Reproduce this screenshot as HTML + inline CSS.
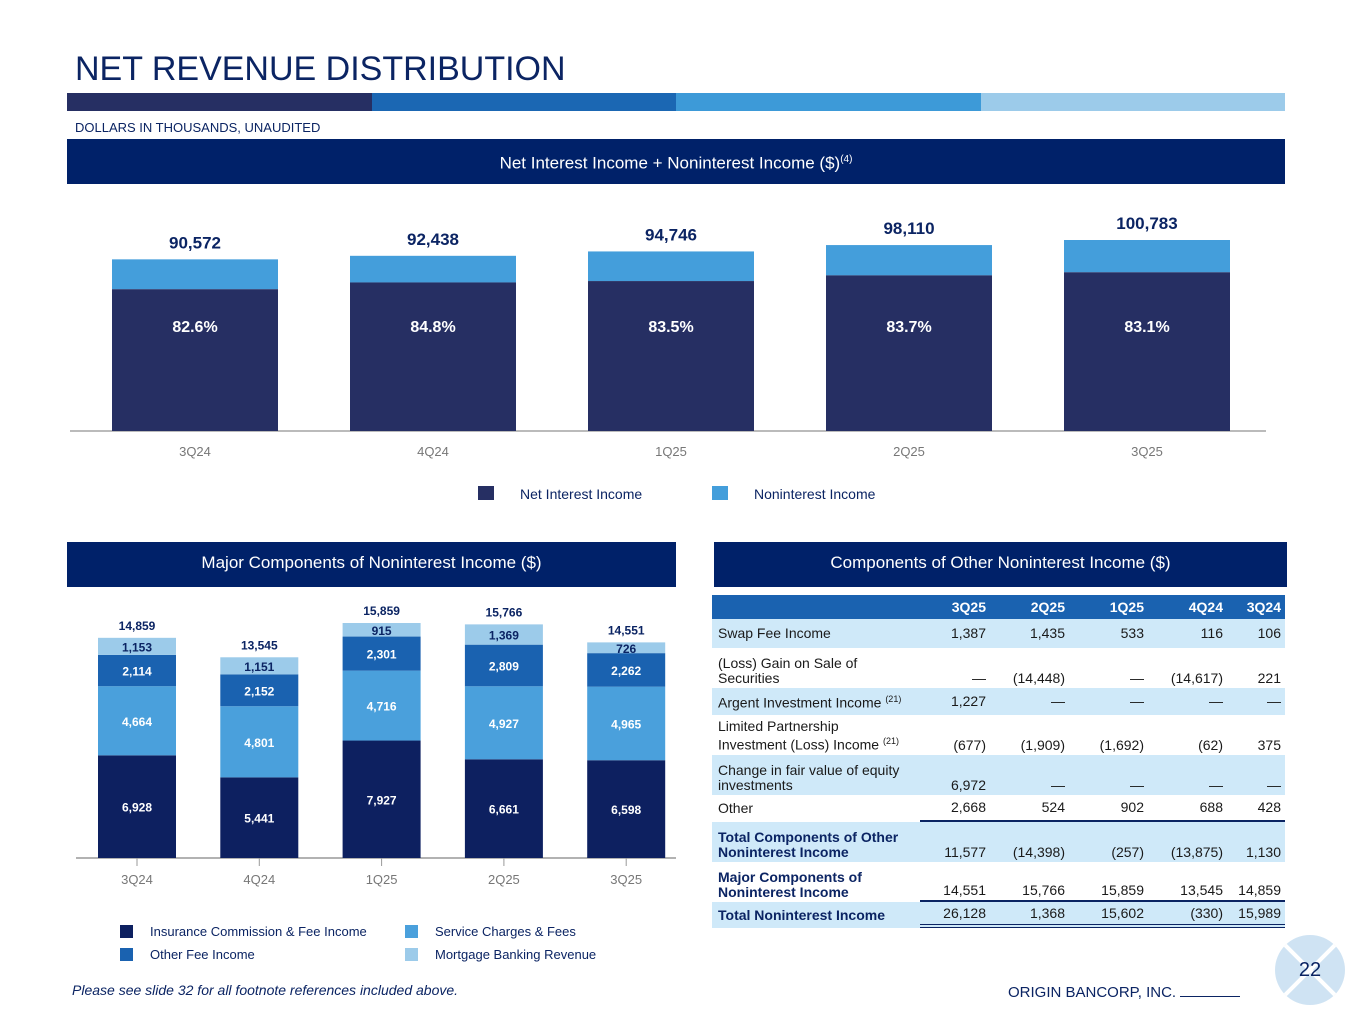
<!DOCTYPE html>
<html><head><meta charset="utf-8">
<style>
body{margin:0;width:1365px;height:1024px;background:#fff;font-family:"Liberation Sans",Arial,sans-serif;position:relative;overflow:hidden}
.abs{position:absolute}
.hdr{position:absolute;background:#002169;color:#fff;font-size:17px;text-align:center}
table{border-collapse:separate;border-spacing:0;font-size:14px;color:#1a1a1a;table-layout:fixed}
td{padding:0 4px;text-align:right;vertical-align:bottom;line-height:15px;padding-bottom:2px}
td.l{text-align:left;padding-left:6px}
tr.m td{vertical-align:middle;padding-bottom:0}
tr.lb{background:#cfe9f9}
th{color:#fff;font-size:14px;text-align:right;padding:0 4px}
.u1{border-bottom:2px solid #0b2463}
.u2{border-bottom:4px double #0b2463}
td.g{border-left:6px solid transparent;background-clip:padding-box}
</style></head><body>
<div class="abs" style="left:75px;top:50px;font-size:34px;color:#0b2463">NET REVENUE DISTRIBUTION</div>
<div class="abs" style="left:67px;top:93px;width:1218px;height:18px;display:flex">
<div style="flex:1;background:#262f63"></div><div style="flex:1;background:#1b67b3"></div><div style="flex:1;background:#3d9ad8"></div><div style="flex:1;background:#9ccbea"></div></div>
<div class="abs" style="left:75px;top:120px;font-size:13px;color:#0b2463">DOLLARS IN THOUSANDS, UNAUDITED</div>
<div class="hdr" style="left:67px;top:139px;width:1218px;height:45px;line-height:42px">Net Interest Income + Noninterest Income ($)<sup style="font-size:10px">(4)</sup></div>
<div class="hdr" style="left:67px;top:542px;width:609px;height:45px;line-height:42px">Major Components of Noninterest Income ($)</div>
<div class="hdr" style="left:714px;top:542px;width:573px;height:45px;line-height:42px">Components of Other Noninterest Income ($)</div>

<svg class="abs" style="left:0;top:0" width="1365" height="1024" id="charts"></svg>

<table class="abs" style="left:712px;top:595px;width:573px">
<colgroup><col style="width:208px"><col style="width:70px"><col style="width:79px"><col style="width:79px"><col style="width:79px"><col style="width:58px"></colgroup>
<tr style="background:#1a62b0;height:24px"><th></th><th>3Q25</th><th>2Q25</th><th>1Q25</th><th>4Q24</th><th>3Q24</th></tr>
<tr class="lb m" style="height:29px"><td class="l">Swap Fee Income</td><td>1,387</td><td>1,435</td><td>533</td><td>116</td><td>106</td></tr>
<tr style="height:40px"><td class="l">(Loss) Gain on Sale of<br>Securities</td><td>—</td><td>(14,448)</td><td>—</td><td>(14,617)</td><td>221</td></tr>
<tr class="lb m" style="height:27px"><td class="l">Argent Investment Income <sup style="font-size:9px">(21)</sup></td><td>1,227</td><td>—</td><td>—</td><td>—</td><td>—</td></tr>
<tr style="height:40px"><td class="l">Limited Partnership<br>Investment (Loss) Income <sup style="font-size:9px">(21)</sup></td><td>(677)</td><td>(1,909)</td><td>(1,692)</td><td>(62)</td><td>375</td></tr>
<tr class="lb" style="height:40px"><td class="l">Change in fair value of equity investments</td><td>6,972</td><td>—</td><td>—</td><td>—</td><td>—</td></tr>
<tr class="m" style="height:27px"><td class="l">Other</td><td class="u1">2,668</td><td class="u1">524</td><td class="u1">902</td><td class="u1">688</td><td class="u1">428</td></tr>
<tr class="lb" style="height:40px;font-weight:bold"><td class="l" style="color:#0b2463">Total Components of Other Noninterest Income</td><td style="font-weight:normal">11,577</td><td style="font-weight:normal">(14,398)</td><td style="font-weight:normal">(257)</td><td style="font-weight:normal">(13,875)</td><td style="font-weight:normal">1,130</td></tr>
<tr style="height:40px;font-weight:bold"><td class="l" style="color:#0b2463">Major Components of Noninterest Income</td><td class="u1" style="font-weight:normal">14,551</td><td class="u1" style="font-weight:normal">15,766</td><td class="u1" style="font-weight:normal">15,859</td><td class="u1" style="font-weight:normal">13,545</td><td class="u1" style="font-weight:normal">14,859</td></tr>
<tr class="lb m" style="height:26px"><td class="l" style="font-weight:bold;color:#0b2463">Total Noninterest Income</td><td class="u2">26,128</td><td class="u2">1,368</td><td class="u2">15,602</td><td class="u2">(330)</td><td class="u2">15,989</td></tr>
</table>

<div class="abs" style="left:72px;top:982px;font-size:14px;font-style:italic;color:#0b2463">Please see slide 32 for all footnote references included above.</div>
<div class="abs" style="left:1008px;top:984px;font-size:15px;color:#0b2463">ORIGIN BANCORP, INC. <span style="display:inline-block;width:60px;border-bottom:1px solid #0b2463"></span></div>
<div class="abs" style="left:1275px;top:935px;width:70px;height:70px;border-radius:50%;background:#cfe3f3;overflow:hidden">
<div style="position:absolute;left:-10px;top:33px;width:90px;height:4px;background:#fff;transform:rotate(45deg)"></div>
<div style="position:absolute;left:-10px;top:33px;width:90px;height:4px;background:#fff;transform:rotate(-45deg)"></div>
<div style="position:absolute;left:0;width:70px;top:24px;text-align:center;font-size:20px;color:#0b2463">22</div></div>

<script>
const topCats=["3Q24","4Q24","1Q25","2Q25","3Q25"];
const topTotals=[90572,92438,94746,98110,100783];
const topNiiPct=[82.6,84.8,83.5,83.7,83.1];
const botCats=["3Q24","4Q24","1Q25","2Q25","3Q25"];
const insurance=[6928,5441,7927,6661,6598];
const service=[4664,4801,4716,4927,4965];
const otherFee=[2114,2152,2301,2809,2262];
const mortgage=[1153,1151,915,1369,726];
const botTotals=[14859,13545,15859,15766,14551];

const svg=document.getElementById('charts');
const NS='http://www.w3.org/2000/svg';
function mk(tag,attrs,parent){const e=document.createElementNS(NS,tag);for(const k in attrs)e.setAttribute(k,attrs[k]);(parent||svg).appendChild(e);return e;}
function txt(x,y,s,attrs){const t=mk('text',Object.assign({x:x,y:y,'text-anchor':'middle','font-family':'Liberation Sans, Arial, sans-serif'},attrs));t.textContent=s;return t;}
const fmt=v=>v.toLocaleString('en-US');

// top chart
const tBase=431,tScale=191/100783,tX0=112,tStep=238,tW=166;
const tx=i=>tX0+i*tStep;const ty=v=>tBase-v*tScale;
mk('line',{x1:70,x2:1266,y1:tBase,y2:tBase,stroke:'#bbb','stroke-width':2});
topCats.forEach((c,i)=>{
  const tot=topTotals[i],nii=tot*topNiiPct[i]/100;
  const r1=mk('rect',{x:tx(i),y:ty(tot),width:tW,height:(tot-nii)*tScale,fill:'#449edb'});
  
  
  const r2=mk('rect',{x:tx(i),y:ty(nii),width:tW,height:nii*tScale,fill:'#262f63'});
  
  
  txt(tx(i)+tW/2,332,topNiiPct[i].toFixed(1)+'%',{fill:'#fff','font-size':16,'font-weight':'bold'});
  txt(tx(i)+tW/2,ty(tot)-11,fmt(tot),{fill:'#0b2463','font-size':17,'font-weight':'bold'});
  txt(tx(i)+tW/2,456,c,{fill:'#777','font-size':13});
});
mk('rect',{x:478,y:486,width:16,height:14,fill:'#262f63'});
txt(520,499,'Net Interest Income',{fill:'#0b2463','font-size':14,'text-anchor':'start'});
mk('rect',{x:712,y:486,width:16,height:14,fill:'#449edb'});
txt(754,499,'Noninterest Income',{fill:'#0b2463','font-size':14,'text-anchor':'start'});

// bottom chart
const bBase=858,bScale=235/15859,bX0=98,bStep=122.3,bW=78;
const bx=i=>bX0+i*bStep;
mk('line',{x1:76,x2:676,y1:bBase,y2:bBase,stroke:'#999','stroke-width':1.5});
const series=[[insurance,'#0d2060','#fff','insurance'],[service,'#4aa0dc','#fff','service-charges'],[otherFee,'#1a62b0','#fff','other-fee'],[mortgage,'#9ccbea','#0b2463','mortgage']];
botCats.forEach((c,i)=>{
  let cum=0;
  series.forEach(([arr,col,tc,nm])=>{
    const v=arr[i],y0=bBase-cum*bScale,h=v*bScale;
    const r=mk('rect',{x:bx(i),y:y0-h,width:bW,height:h,fill:col});
    
    
    txt(bx(i)+bW/2,y0-h/2+5,fmt(v),{fill:tc,'font-size':12,'font-weight':'bold'});
    cum+=v;
  });
  txt(bx(i)+bW/2,bBase-botTotals[i]*bScale-8,fmt(botTotals[i]),{fill:'#0b2463','font-size':12,'font-weight':'bold'});
  mk('line',{x1:bx(i)+bW/2,x2:bx(i)+bW/2,y1:bBase,y2:bBase+8,stroke:'#999'});
  txt(bx(i)+bW/2,884,c,{fill:'#777','font-size':13});
});
const leg=[['Insurance Commission & Fee Income','#0d2060',120,925],['Service Charges & Fees','#4aa0dc',405,925],['Other Fee Income','#1a62b0',120,948],['Mortgage Banking Revenue','#9ccbea',405,948]];
leg.forEach(([l,c,x,y])=>{mk('rect',{x:x,y:y,width:13,height:13,fill:c});txt(x+30,y+11,l,{fill:'#0b2463','font-size':13,'text-anchor':'start'});});
</script>
</body></html>
